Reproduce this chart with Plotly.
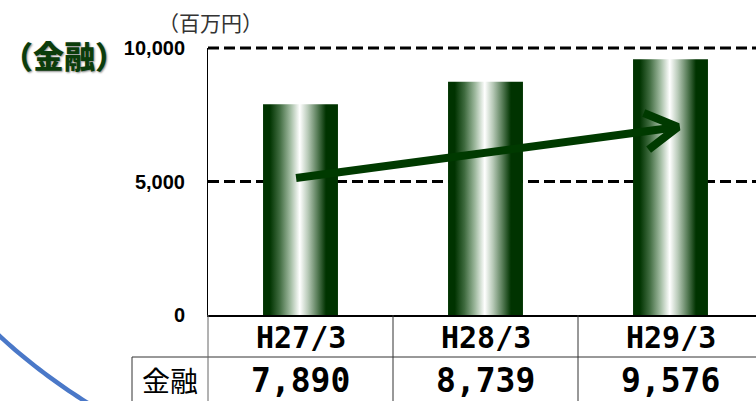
import math
import plotly.graph_objects as go

# ---- data ----
categories = ["H27/3", "H28/3", "H29/3"]
values = [7890, 8739, 9576]
value_labels = ["7,890", "8,739", "9,576"]
row_label = "金融"
tick_vals = [0, 5000, 10000]
tick_text = ["0", "5,000", "10,000"]
unit_label = "（百万円）"
title_label = "（金融）"

# decorative trend arrow (data units)
ARROW_FROM = (-0.024, 5130)
ARROW_TO = (2.04, 7040)

# ---- layout geometry (pixels) ----
W, H = 756, 401
L, R, T, B = 208, 0, 48, 86
PW, PH = W - L - R, H - T - B
CAT_PX = 185.0  # pixels per category
X0 = -0.5
X1 = X0 + PW / CAT_PX
Y0, Y1 = 0, 10000
BAR_W = 0.405

DARK = "#003300"


def px_x(px):
    return (px - L) / PW


def px_y(py):
    return (H - B - py) / PH


def dx_to_px(x):
    return L + (x - X0) / (X1 - X0) * PW


def dy_to_py(y):
    return H - B - (y - Y0) / (Y1 - Y0) * PH


def px_to_dx(px):
    return X0 + (px - L) / PW * (X1 - X0)


def py_to_dy(py):
    return Y0 + (H - B - py) / PH * (Y1 - Y0)


fig = go.Figure()

grad = [[0.0, DARK], [0.09, DARK], [0.22, "#3f6b3f"], [0.36, "#9db89d"],
        [0.49, "#ffffff"], [0.60, "#b7c9b7"], [0.72, "#5c805c"],
        [0.84, DARK], [1.0, DARK]]

for i, v in enumerate(values):
    xs = [i - BAR_W / 2, i + BAR_W / 2, i + BAR_W / 2, i - BAR_W / 2, i - BAR_W / 2]
    ys = [0, 0, v, v, 0]
    fig.add_trace(go.Scatter(
        x=xs, y=ys, mode="lines", fill="toself",
        line=dict(width=0, color=DARK),
        fillgradient=dict(type="horizontal", colorscale=grad),
        hoverinfo="skip", showlegend=False,
    ))

# arrow
sx, sy = dx_to_px(ARROW_FROM[0]), dy_to_py(ARROW_FROM[1])
ex, ey = dx_to_px(ARROW_TO[0]), dy_to_py(ARROW_TO[1])
back = math.atan2(sy - ey, sx - ex)
wing_len = 37
wing_ang = math.radians(30)
w1 = (ex + wing_len * math.cos(back - wing_ang), ey + wing_len * math.sin(back - wing_ang))
w2 = (ex + wing_len * math.cos(back + wing_ang), ey + wing_len * math.sin(back + wing_ang))
ax_ = [ARROW_FROM[0], ARROW_TO[0], None, px_to_dx(w1[0]), ARROW_TO[0], px_to_dx(w2[0])]
ay_ = [ARROW_FROM[1], ARROW_TO[1], None, py_to_dy(w1[1]), ARROW_TO[1], py_to_dy(w2[1])]
fig.add_trace(go.Scatter(x=ax_, y=ay_, mode="lines",
                         line=dict(width=8, color="#003a00"),
                         hoverinfo="skip", showlegend=False))

shapes = []
# dashed gridlines (non-zero ticks), in paper coords so the top one is not clipped
for tv in tick_vals:
    if tv == 0:
        continue
    yp = (tv - Y0) / (Y1 - Y0)
    shapes.append(dict(type="line", xref="paper", yref="paper", layer="below",
                       x0=0, x1=1, y0=yp, y1=yp,
                       line=dict(color="black", width=3, dash="11px,5px")))

LINE_DARK = "#333333"
# table lines
row_mid = 357
shapes.append(dict(type="line", xref="paper", yref="paper",
                   x0=px_x(132), x1=px_x(W + 5), y0=px_y(row_mid), y1=px_y(row_mid),
                   line=dict(color=LINE_DARK, width=1)))
shapes.append(dict(type="line", xref="paper", yref="paper",
                   x0=px_x(132), x1=px_x(132), y0=px_y(row_mid), y1=px_y(H + 5),
                   line=dict(color=LINE_DARK, width=1)))
shapes.append(dict(type="line", xref="paper", yref="paper",
                   x0=0, x1=0, y0=0, y1=px_y(H + 5),
                   line=dict(color="#666666", width=1)))
for k in range(len(categories) - 1):
    xp = px_x(dx_to_px(k + 0.5))
    shapes.append(dict(type="line", xref="paper", yref="paper",
                       x0=xp, x1=xp, y0=0, y1=px_y(H + 5),
                       line=dict(color=LINE_DARK, width=1)))

# blue decorative arc
cx, cy, rr = 400, -100, 592
pts = []
for j in range(41):
    a = math.radians(117 + j * (20 / 40))
    pts.append((cx + rr * math.cos(a), cy + rr * math.sin(a)))
path = "M " + " L ".join(f"{px_x(p[0]):.5f},{px_y(p[1]):.5f}" for p in pts)
shapes.append(dict(type="path", xref="paper", yref="paper", path=path,
                   line=dict(color="#4a78c8", width=4.5)))

annotations = []
for i, (c, vl) in enumerate(zip(categories, value_labels)):
    annotations.append(dict(x=i, xref="x", y=px_y(337), yref="paper", text=c,
                            showarrow=False, xanchor="center", yanchor="middle",
                            font=dict(family="DejaVu Sans Mono", size=30, color="black", weight="bold")))
    annotations.append(dict(x=i, xref="x", y=px_y(380), yref="paper", text=vl,
                            showarrow=False, xanchor="center", yanchor="middle",
                            font=dict(family="DejaVu Sans Mono", size=33, color="black", weight="bold")))
annotations.append(dict(x=px_x(170), xref="paper", y=px_y(380), yref="paper", text=row_label,
                        showarrow=False, xanchor="center", yanchor="middle",
                        font=dict(family="Noto Sans CJK JP", size=28, color="black")))
annotations.append(dict(x=px_x(210), xref="paper", y=px_y(22), yref="paper", text=unit_label,
                        showarrow=False, xanchor="center", yanchor="middle",
                        font=dict(family="Noto Sans CJK JP", size=21, color="#333333")))
annotations.append(dict(x=px_x(0), xref="paper", y=px_y(55), yref="paper", text=title_label,
                        showarrow=False, xanchor="left", yanchor="middle",
                        font=dict(family="Noto Sans CJK JP", size=31, color="#0b3d0b",
                                  weight=900, shadow="1px 1px 2px #888888")))

fig.update_layout(
    width=W, height=H,
    margin=dict(l=L, r=R, t=T, b=B, pad=0),
    paper_bgcolor="white", plot_bgcolor="white",
    showlegend=False,
    shapes=shapes, annotations=annotations,
    xaxis=dict(range=[X0, X1], showgrid=False, zeroline=False, showticklabels=False,
               showline=True, linecolor="black", linewidth=2, ticks="", fixedrange=True),
    yaxis=dict(range=[Y0, Y1], tickvals=tick_vals, ticktext=tick_text,
               showgrid=False, zeroline=False, showline=True, linecolor="black", linewidth=1,
               ticks="", ticklabelstandoff=18,
               tickfont=dict(family="Liberation Sans", size=20, color="black", weight="bold"),
               fixedrange=True),
)

fig.write_html("out.html", config={"displayModeBar": False},
               post_script="document.body.style.margin='0px';")
